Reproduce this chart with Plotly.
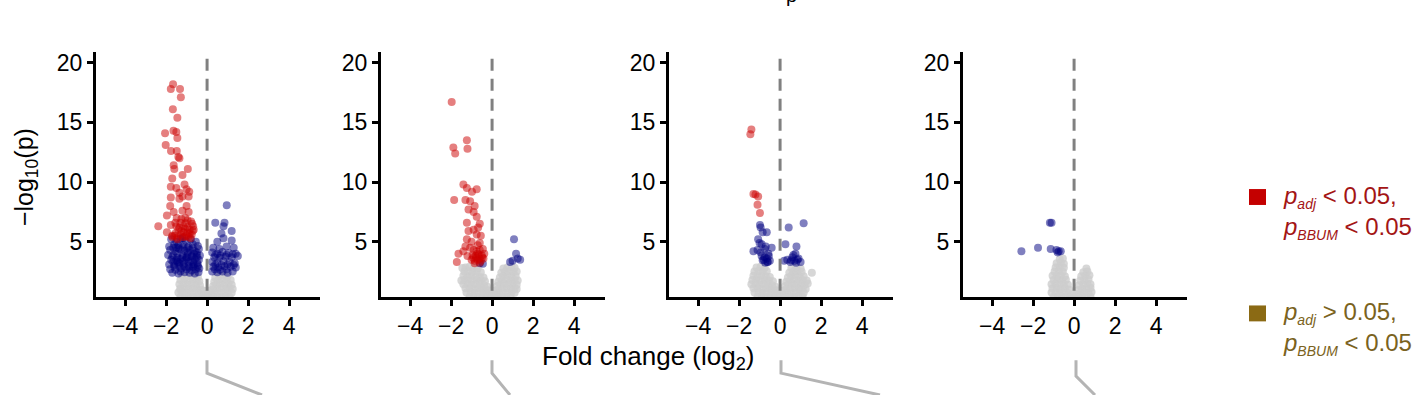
import plotly.graph_objects as go

# ---------------- data ----------------
# Panel 1
p1_gray_x = [-1.3,-1.1,-0.9,-0.7,-0.5,-0.3,-0.1,0.1,0.3,0.5,0.7,0.9,1.1,
             -1.4,-1.2,-1.0,-0.8,-0.6,-0.4,-0.2,0.0,0.2,0.4,0.6,0.8,1.0,1.2,
             -1.3,-1.1,-0.9,-0.7,-0.5,-0.3,-0.15,0.15,0.3,0.5,0.7,0.9,1.1,1.25,
             -1.35,-1.15,-0.95,-0.75,-0.55,-0.35,0.3,0.45,0.65,0.85,1.05,1.2,
             -1.3,-1.1,-0.9,-0.7,-0.5,-0.38,0.35,0.55,0.75,0.95,1.15,
             -1.2,-1.0,-0.8,-0.6,-0.45,0.4,0.6,0.8,1.0,-1.3]
p1_gray_y = [0.4,0.45,0.38,0.42,0.4,0.36,0.35,0.38,0.4,0.42,0.4,0.45,0.4,
             0.75,0.8,0.72,0.78,0.75,0.7,0.65,0.55,0.62,0.72,0.78,0.75,0.8,0.72,
             1.1,1.15,1.05,1.12,1.08,1.0,0.9,0.92,1.02,1.1,1.15,1.08,1.12,1.05,
             1.45,1.5,1.42,1.48,1.4,1.35,1.3,1.42,1.5,1.45,1.48,1.4,
             1.8,1.85,1.78,1.82,1.75,1.7,1.65,1.8,1.85,1.78,1.8,
             2.15,2.1,2.18,2.12,2.05,2.0,2.15,2.2,2.1,1.0]
p1_blue_x = [-1.75,-1.5,-1.3,-1.05,-0.8,-0.55,
             -1.85,-1.6,-1.4,-1.15,-0.9,-0.7,-0.45,
             -1.8,-1.55,-1.3,-1.1,-0.85,-0.6,-0.4,
             -1.9,-1.65,-1.45,-1.2,-0.95,-0.75,-0.5,-0.35,
             -1.75,-1.5,-1.3,-1.05,-0.8,-0.6,-0.4,
             -1.85,-1.6,-1.35,-1.15,-0.9,-0.65,-0.45,
             -1.8,-1.55,-1.25,-1.0,-0.75,-0.55,-0.38,
             -1.7,-1.4,-1.1,-0.85,-0.6,-0.42,
             -1.2,-0.95,-1.45,-0.7,-1.3,-1.0,-0.65,-1.5,
             -1.65,-1.4,-1.2,-0.95,-0.7,-0.5,-1.7,-1.45,-1.2,-0.98,-0.72,-0.5,
             -1.6,-1.35,-1.1,-0.88,-0.66,-0.45,-1.65,-1.4,-1.15,-0.9,-0.68,-0.48,
             0.96,0.4,0.85,0.8,1.2,0.7,0.8,1.2,0.5,
             0.3,0.6,0.95,1.3,
             0.25,0.5,0.75,1.05,1.4,
             0.35,0.6,0.9,1.2,1.5,
             0.25,0.5,0.8,1.1,1.35,
             0.3,0.55,0.85,1.15,1.4,
             0.25,0.5,0.75,1.0,1.25,
             0.4,0.65,0.95,1.25,0.4,0.7,1.0,1.3,0.38,0.62,0.95]
p1_blue_y = [5.2,5.0,5.25,5.1,5.2,5.0,
             4.6,4.8,4.7,4.75,4.6,4.8,4.65,
             4.3,4.2,4.35,4.25,4.3,4.2,4.4,
             3.9,3.85,4.0,3.9,3.95,3.8,3.9,3.85,
             3.5,3.45,3.55,3.5,3.4,3.55,3.5,
             3.1,3.05,3.15,3.1,3.0,3.1,3.05,
             2.7,2.65,2.75,2.7,2.6,2.7,2.75,
             2.4,2.35,2.45,2.4,2.35,2.45,
             5.3,4.5,3.3,2.9,2.5,3.7,4.0,4.5,
             4.5,4.45,4.55,4.1,4.45,4.1,3.7,3.65,3.7,3.65,3.75,3.7,
             2.9,2.95,2.9,2.85,2.95,2.9,3.3,3.3,3.35,3.3,3.3,3.25,
             8.06,6.6,6.6,6.3,5.9,5.7,5.3,5.1,5.0,
             4.5,4.4,4.6,4.5,
             4.1,4.0,4.15,4.05,4.0,
             3.7,3.65,3.75,3.7,3.8,
             3.3,3.25,3.35,3.3,3.2,
             2.9,2.85,2.95,2.9,2.85,
             2.5,2.45,2.5,2.4,2.5,
             3.9,3.85,3.9,3.95,3.1,3.05,3.1,3.05,2.7,2.65,2.7]
p1_red_x = [-1.66,-1.77,-1.32,-1.28,-1.67,-1.45,-2.05,-1.64,-1.5,-1.45,-2.02,-1.76,-1.48,-1.4,-1.35,-1.63,-1.6,-0.94,
            -1.2,-1.7,-1.77,-1.5,-1.1,-1.0,-1.35,-0.87,-1.2,-1.77,-1.35,-0.9,-1.8,-1.0,-1.63,-1.2,-0.9,-1.96,
            -1.48,-1.07,-2.38,-1.77,-1.35,-0.96,-0.73,-1.96,-1.55,-1.15,-0.85,-1.7,-1.2,-0.9,-0.65,-1.3,-1.07,-1.45,
            -1.6,-1.3,-1.0,-0.75,-1.4,-1.15,-0.85,-1.55,-1.25,-0.95,-0.7,-1.7,
            -1.45,-1.1,-0.8,-1.25,-0.95,-0.68,-1.5,-1.05,-0.78]
p1_red_y = [18.2,17.8,17.8,17.1,16.1,15.4,14.1,14.3,14.2,13.7,13.1,12.6,12.6,12.1,12.0,11.4,11.1,11.1,
            10.6,10.3,9.6,9.5,9.8,9.4,9.1,9.2,8.8,8.7,8.6,8.8,8.0,8.0,7.5,7.6,7.5,7.2,
            7.0,7.0,6.3,6.4,6.2,6.2,6.5,5.8,5.7,5.8,5.7,5.4,5.4,5.4,6.0,6.6,6.1,5.2,
            5.5,5.6,5.5,5.6,6.0,6.3,6.0,6.6,6.9,6.8,5.9,5.5,
            5.35,5.4,5.3,5.9,5.75,6.3,6.3,6.55,6.7]

# Panel 2
p2_gray_x = [-1.1,-0.9,-0.7,-0.5,-0.3,-0.1,0.1,0.3,0.5,0.7,0.9,
             -1.25,-1.05,-0.85,-0.65,-0.45,-0.25,-0.05,0.15,0.35,0.55,0.75,0.95,1.1,
             -1.3,-1.1,-0.9,-0.7,-0.5,-0.3,-0.15,0.15,0.3,0.5,0.7,0.9,1.1,1.2,
             -1.4,-1.2,-1.0,-0.8,-0.6,-0.4,-0.25,0.25,0.4,0.6,0.8,1.0,1.2,
             -1.35,-1.15,-0.95,-0.75,-0.55,-0.35,0.3,0.5,0.7,0.9,1.1,1.25,
             -1.4,-1.2,-1.0,-0.8,-0.6,-0.42,0.38,0.55,0.75,0.95,1.15,
             -1.35,-1.15,-0.95,-0.75,-0.55,0.45,0.65,0.85,1.05,1.2,
             -1.3,-1.1,-0.9,-0.7,0.55,0.75,0.95,1.1,
             -1.5,-1.45]
p2_gray_y = [0.4,0.42,0.38,0.4,0.36,0.35,0.38,0.4,0.42,0.4,0.45,
             0.75,0.8,0.72,0.78,0.75,0.68,0.6,0.62,0.72,0.78,0.75,0.8,0.72,
             1.1,1.15,1.05,1.12,1.08,1.0,0.92,0.9,1.02,1.1,1.15,1.08,1.12,1.05,
             1.45,1.5,1.42,1.48,1.4,1.35,1.25,1.3,1.42,1.5,1.45,1.48,1.4,
             1.8,1.85,1.78,1.82,1.75,1.7,1.65,1.8,1.85,1.78,1.8,1.75,
             2.15,2.1,2.18,2.12,2.05,2.0,2.0,2.15,2.2,2.1,2.12,
             2.5,2.55,2.48,2.52,2.45,2.4,2.5,2.55,2.48,2.5,
             2.85,2.9,2.82,2.8,2.75,2.85,2.9,2.82,
             1.75,2.8]
p2_blue_x = [1.07,1.17,1.37,0.88,1.0,1.25,-0.6,-0.45]
p2_blue_y = [5.2,4.0,3.5,3.3,3.4,3.6,3.2,3.15]
p2_red_x = [-1.97,-1.89,-1.8,-1.23,-1.2,-1.85,-1.4,-1.23,-0.75,-0.98,-1.3,-1.07,-0.85,-1.15,-0.9,-0.75,-1.23,-0.6,
            -0.9,-0.68,-1.15,-0.75,-1.23,-1.0,-0.6,-1.64,-1.4,-1.72,-1.07,
            -1.0,-0.85,-0.7,-0.55,-0.42,-0.95,-0.8,-0.65,-0.5,-0.38,-0.9,-0.75,-0.6,-0.45,-0.85,-0.6,-1.2,-1.3,-0.7,-0.55,
            -0.78,-0.62,-0.48,-0.92,-0.7]
p2_red_y = [16.7,12.9,12.4,13.5,12.8,8.5,9.8,9.5,9.4,9.2,8.5,8.4,8.0,7.7,7.5,7.1,6.6,6.5,
            6.0,6.2,5.9,5.6,5.2,5.0,4.9,4.0,4.2,3.3,4.5,
            3.5,3.4,3.5,3.4,3.6,3.9,3.8,3.9,3.85,4.0,4.3,4.2,4.3,4.4,3.2,3.25,3.8,4.6,4.7,5.5,
            3.65,3.6,3.7,3.65,4.0]

# Panel 3
p3_gray_x = [-1.1,-0.9,-0.7,-0.5,-0.3,-0.1,0.1,0.3,0.5,0.7,0.9,1.1,
             -1.25,-1.05,-0.85,-0.65,-0.45,-0.25,-0.05,0.15,0.35,0.55,0.75,0.95,1.15,
             -1.3,-1.1,-0.9,-0.7,-0.5,-0.3,-0.15,0.15,0.3,0.5,0.7,0.9,1.1,1.25,
             -1.4,-1.2,-1.0,-0.8,-0.6,-0.4,-0.25,0.25,0.4,0.6,0.8,1.0,1.2,1.35,
             -1.35,-1.15,-0.95,-0.75,-0.55,-0.35,0.3,0.5,0.7,0.9,1.1,1.3,
             -1.3,-1.1,-0.9,-0.7,-0.5,0.38,0.55,0.75,0.95,1.15,
             -1.25,-1.05,-0.85,-0.65,0.45,0.65,0.85,1.05,
             -1.15,-0.95,-0.75,0.55,0.8,1.0,
             1.55]
p3_gray_y = [0.4,0.42,0.38,0.4,0.36,0.35,0.38,0.4,0.42,0.4,0.45,0.4,
             0.75,0.8,0.72,0.78,0.75,0.68,0.6,0.62,0.72,0.78,0.75,0.8,0.72,
             1.1,1.15,1.05,1.12,1.08,1.0,0.92,0.9,1.02,1.1,1.15,1.08,1.12,1.05,
             1.45,1.5,1.42,1.48,1.4,1.35,1.25,1.3,1.42,1.5,1.45,1.48,1.4,1.5,
             1.8,1.85,1.78,1.82,1.75,1.7,1.65,1.8,1.85,1.78,1.8,1.75,
             2.15,2.1,2.18,2.12,2.05,2.0,2.15,2.2,2.1,2.12,
             2.5,2.55,2.48,2.52,2.4,2.5,2.55,2.48,
             2.85,2.9,2.82,2.8,2.85,2.75,
             2.4]
p3_blue_x = [-0.98,-0.95,-0.65,-1.07,-1.3,-1.1,-0.9,-0.75,-0.57,-0.75,-0.5,-0.9,-0.41,
             0.42,1.15,0.26,0.8,0.75,0.6,0.2,0.5,1.0,0.85,
             -0.8,-0.65,-0.55,-0.95,-0.7,-1.0,-0.85,-0.6,0.7,0.9,0.65,0.35,
             -0.72,-0.62,-0.85,0.55,0.78]
p3_blue_y = [6.4,6.2,5.8,5.2,4.2,4.3,4.8,4.4,4.0,3.7,3.4,3.8,4.5,
             6.2,6.55,4.8,4.6,4.0,3.7,3.4,3.3,3.3,3.5,
             3.5,3.6,3.8,4.1,4.6,4.9,5.8,3.3,3.4,3.6,3.9,3.5,
             3.25,3.3,3.45,3.45,3.25]
p3_red_x = [-1.4,-1.45,-1.3,-1.07,-1.1,-0.98,-1.2]
p3_red_y = [14.4,14.0,9.0,8.8,8.1,7.4,8.95]

# Panel 4
p4_gray_x = [-1.0,-0.8,-0.6,-0.4,-0.2,0.0,0.2,0.4,0.6,0.8,
             -1.1,-0.9,-0.7,-0.5,-0.3,-0.1,0.1,0.3,0.5,0.7,0.85,
             -1.05,-0.85,-0.65,-0.45,-0.25,0.2,0.4,0.6,0.8,
             -1.1,-0.9,-0.7,-0.5,-0.3,0.25,0.45,0.65,0.8,
             -1.0,-0.8,-0.6,-0.4,0.3,0.5,0.7,
             -1.05,-0.85,-0.65,-0.45,0.35,0.55,0.75,
             -0.95,-0.75,-0.55,0.45,0.65,
             -0.9,-0.7,-0.5,0.6,
             -0.85,-0.65,-0.5,
             -0.7,-0.55]
p4_gray_y = [0.4,0.42,0.38,0.4,0.36,0.35,0.38,0.4,0.42,0.4,
             0.75,0.8,0.72,0.78,0.7,0.6,0.62,0.72,0.78,0.75,0.8,
             1.1,1.15,1.05,1.12,1.0,0.95,1.05,1.1,1.15,
             1.45,1.5,1.42,1.48,1.4,1.35,1.42,1.5,1.45,
             1.8,1.85,1.78,1.82,1.75,1.8,1.85,
             2.15,2.1,2.18,2.12,2.1,2.15,2.2,
             2.5,2.55,2.48,2.45,2.5,
             2.85,2.9,2.82,2.75,
             3.2,3.25,3.15,
             3.55,3.6]
p4_blue_x = [-2.57,-1.76,-1.14,-1.18,-1.1,-0.86,-0.75,-0.65,-0.8]
p4_blue_y = [4.2,4.5,4.4,6.6,6.6,4.3,4.2,4.2,4.1]
p4_red_x = []
p4_red_y = []

x_tick_vals = [-4, -2, 0, 2, 4]
y_tick_vals = [5, 10, 15, 20]
x_title = "Fold change (log<sub>2</sub>)"
y_title = "\u2212log<sub>10</sub>(p)"
top_text = "p"
SUBSTYLE = "font-size:14px"
legend_labels = [
    "<i>p</i><sub><span style='%s'><i>adj</i></span></sub> < 0.05,<br>"
    "<i>p</i><sub><span style='%s'><i>BBUM</i></span></sub> < 0.05" % (SUBSTYLE, SUBSTYLE),
    "<i>p</i><sub><span style='%s'><i>adj</i></span></sub> > 0.05,<br>"
    "<i>p</i><sub><span style='%s'><i>BBUM</i></span></sub> < 0.05" % (SUBSTYLE, SUBSTYLE),
]

# ---------------- styling / layout ----------------
W, H = 1417, 395
FONT = "Liberation Sans, Arial, Helvetica, sans-serif"
GRAY = "rgba(205,205,205,0.8)"
BLUE = "rgba(0,0,128,0.5)"
RED = "rgba(204,0,0,0.5)"
MS = 8

def fx(p):
    return p / W

def fy(p):
    return 1 - p / H

panel_px = [(96, 320), (381, 605), (669, 893), (963, 1187)]
top_px, bot_px = 50, 297
xr = [-5.42, 5.51]
yr = [0.33, 20.92]

panels = [
    (p1_gray_x, p1_gray_y, p1_blue_x, p1_blue_y, p1_red_x, p1_red_y),
    (p2_gray_x, p2_gray_y, p2_blue_x, p2_blue_y, p2_red_x, p2_red_y),
    (p3_gray_x, p3_gray_y, p3_blue_x, p3_blue_y, p3_red_x, p3_red_y),
    (p4_gray_x, p4_gray_y, p4_blue_x, p4_blue_y, p4_red_x, p4_red_y),
]

fig = go.Figure()
layout = dict(width=W, height=H, margin=dict(l=0, r=0, t=0, b=0),
              paper_bgcolor="white", plot_bgcolor="white", showlegend=False,
              font=dict(family=FONT, size=23, color="black"))
shapes = []
annotations = []

for i, (gx, gy, bx, by, rx, ry) in enumerate(panels):
    n = "" if i == 0 else str(i + 1)
    xa, ya = "x" + n, "y" + n
    for xs, ys, col in [(gx, gy, GRAY), (bx, by, BLUE), (rx, ry, RED)]:
        if xs:
            fig.add_trace(go.Scatter(x=xs, y=ys, mode="markers", xaxis=xa, yaxis=ya,
                                     marker=dict(size=MS, color=col, line=dict(width=0)),
                                     hoverinfo="skip"))
    axcommon = dict(showgrid=False, zeroline=False, showline=True, linewidth=3,
                    linecolor="black", ticks="outside", ticklen=6, tickwidth=3,
                    tickcolor="black", tickfont=dict(family=FONT, size=23, color="black"))
    layout["xaxis" + n] = dict(axcommon, domain=[fx(panel_px[i][0]), fx(panel_px[i][1])],
                               range=xr, anchor=ya, tickvals=x_tick_vals)
    layout["yaxis" + n] = dict(axcommon, domain=[fy(bot_px), fy(top_px)],
                               range=yr, anchor=xa, tickvals=y_tick_vals)
    shapes.append(dict(type="line", xref=xa, yref=ya, x0=0, x1=0, y0=0.9, y1=yr[1],
                       line=dict(color="#808080", width=3, dash="12px,8px"), layer="above"))

# connector lines below each panel
conn = [((207, 360), (207, 373), (262, 395)),
        ((492, 360), (492, 373), (510, 395)),
        ((781, 360), (781, 373), (880, 395)),
        ((1076, 360), (1076, 376), (1095, 395))]
for a, b, c in conn:
    path = "M %f,%f L %f,%f L %f,%f" % (fx(a[0]), fy(a[1]), fx(b[0]), fy(b[1]), fx(c[0]), fy(c[1]))
    shapes.append(dict(type="path", xref="paper", yref="paper", path=path,
                       line=dict(color="#b4b4b4", width=3)))

# legend squares + labels
leg_cols = [("#c40000", "#a31515", 196, 212), ("#8b6a14", "#7a6220", 313, 328)]
for (sq, tc, sy, ty), lab in zip(leg_cols, legend_labels):
    shapes.append(dict(type="rect", xref="paper", yref="paper",
                       x0=fx(1249), x1=fx(1266), y0=fy(sy + 8), y1=fy(sy - 8),
                       fillcolor=sq, line=dict(width=0)))
    annotations.append(dict(x=fx(1281), y=fy(ty), xref="paper", yref="paper",
                            text=lab, showarrow=False, xanchor="left", yanchor="middle",
                            align="left", font=dict(family=FONT, size=24, color=tc)))

annotations.append(dict(x=fx(648), y=fy(357), xref="paper", yref="paper", text=x_title,
                        showarrow=False, xanchor="center", yanchor="middle",
                        font=dict(family=FONT, size=26, color="black")))
annotations.append(dict(x=fx(26), y=fy(176), xref="paper", yref="paper", text=y_title,
                        showarrow=False, xanchor="center", yanchor="middle", textangle=-90,
                        font=dict(family=FONT, size=25, color="black")))
annotations.append(dict(x=fx(791), y=fy(6), xref="paper", yref="paper", text=top_text,
                        showarrow=False, xanchor="center", yanchor="bottom",
                        font=dict(family=FONT, size=20, color="black")))

layout["shapes"] = shapes
layout["annotations"] = annotations
fig.update_layout(**layout)
fig.write_html("out.html")
